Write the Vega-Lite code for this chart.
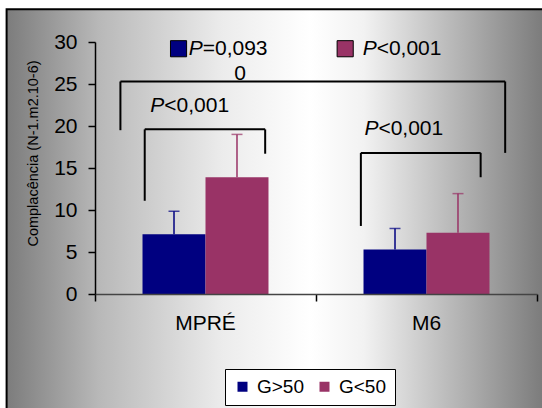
{
  "$schema": "https://vega.github.io/schema/vega-lite/v6.json",
  "width": 442,
  "height": 252,
  "autosize": "none",
  "padding": {"left": 95, "top": 42, "right": 5, "bottom": 114},
  "background": "#ffffff",
  "config": {
    "font": "Liberation Sans",
    "view": {"stroke": null},
    "axis": {"grid": false, "labelColor": "#000000", "titleColor": "#000000"},
    "legend": {
      "orient": "none", "legendX": 130, "legendY": 327, "direction": "horizontal",
      "fillColor": "#ffffff", "strokeColor": "#000000", "padding": 8,
      "labelFontSize": 19, "labelColor": "#000000", "symbolType": "square", "symbolSize": 100,
      "symbolStrokeWidth": 0, "columnPadding": 10, "labelOffset": 5, "title": null
    }
  },
  "datasets": {
    "bars": [
      {"cat": "MPRÉ", "grp": "G>50", "v": 7.1, "err": 9.85},
      {"cat": "MPRÉ", "grp": "G<50", "v": 13.9, "err": 19.0},
      {"cat": "M6", "grp": "G>50", "v": 5.3, "err": 7.8},
      {"cat": "M6", "grp": "G<50", "v": 7.3, "err": 11.95}
    ],
    "frame": [{"u": -0.4, "u2": 2.05, "v": 33.9, "v2": -14.1}],
    "brackets": [
      {"u": 0.115, "u2": 1.856, "v": 25.3, "v2": 25.3},
      {"u": 0.115, "u2": 0.115, "v": 25.3, "v2": 19.5},
      {"u": 1.856, "u2": 1.856, "v": 25.3, "v2": 16.8},
      {"u": 0.225, "u2": 0.770, "v": 19.6, "v2": 19.6},
      {"u": 0.225, "u2": 0.225, "v": 19.6, "v2": 11.1},
      {"u": 0.770, "u2": 0.770, "v": 19.6, "v2": 16.7},
      {"u": 1.203, "u2": 1.745, "v": 16.8, "v2": 16.8},
      {"u": 1.203, "u2": 1.203, "v": 16.8, "v2": 8.1},
      {"u": 1.745, "u2": 1.745, "v": 16.8, "v2": 13.9}
    ],
    "ptexts": [
      {"u": 0.25, "v": 22.4, "rest": "<0,001"},
      {"u": 1.219, "v": 19.6, "rest": "<0,001"},
      {"u": 0.424, "v": 29.2, "rest": "=0,093"},
      {"u": 1.211, "v": 29.2, "rest": "<0,001"}
    ],
    "wrap": [{"u": 0.656, "v": 26.2, "t": "0"}],
    "squares": [
      {"u": 0.378, "v": 29.2, "grp": "G>50"},
      {"u": 1.132, "v": 29.2, "grp": "G<50"}
    ]
  },
  "layer": [
    {
      "layer": [
        {
          "data": {"name": "frame"},
          "mark": {
            "type": "rect",
            "fill": {
              "gradient": "linear", "x1": 0, "x2": 1, "y1": 0, "y2": 0,
              "stops": [
                {"offset": 0, "color": "#7c7c7c"},
                {"offset": 0.17, "color": "#b8b8b8"},
                {"offset": 0.4, "color": "#ececec"},
                {"offset": 0.56, "color": "#ffffff"},
                {"offset": 0.66, "color": "#f2f2f2"},
                {"offset": 0.86, "color": "#ababab"},
                {"offset": 1, "color": "#787878"}
              ]
            },
            "stroke": "#000000",
            "strokeWidth": 2
          },
          "encoding": {
            "x": {"field": "u", "type": "quantitative", "scale": {"domain": [0, 2], "nice": false, "zero": false},
                  "axis": {"zindex": 2, "values": [0, 1, 2], "labels": false, "domain": false, "ticks": true, "tickSize": 7, "tickColor": "#000000", "tickWidth": 1.5, "orient": "bottom", "title": null, "grid": false}},
            "x2": {"field": "u2"},
            "y": {"field": "v", "type": "quantitative", "title": "Complacência (N-1.m2.10-6)", "scale": {"domain": [0, 30], "nice": false, "zero": true}},
            "y2": {"field": "v2"}
          }
        },
        {
          "data": {"name": "brackets"},
          "mark": {"type": "rule", "color": "#000000", "strokeWidth": 2},
          "encoding": {
            "x": {"field": "u", "type": "quantitative", "title": null},
            "x2": {"field": "u2"},
            "y": {"field": "v", "type": "quantitative", "title": "Complacência (N-1.m2.10-6)"},
            "y2": {"field": "v2"}
          }
        },
        {
          "data": {"name": "ptexts"},
          "mark": {"type": "text", "align": "left", "baseline": "middle", "fontSize": 21, "fontStyle": "italic", "color": "#000000"},
          "encoding": {
            "x": {"field": "u", "type": "quantitative", "title": null},
            "y": {"field": "v", "type": "quantitative", "title": "Complacência (N-1.m2.10-6)"},
            "text": {"value": "P"}
          }
        },
        {
          "data": {"name": "ptexts"},
          "mark": {"type": "text", "align": "left", "baseline": "middle", "fontSize": 21, "dx": 14, "color": "#000000"},
          "encoding": {
            "x": {"field": "u", "type": "quantitative", "title": null},
            "y": {"field": "v", "type": "quantitative", "title": "Complacência (N-1.m2.10-6)"},
            "text": {"field": "rest"}
          }
        },
        {
          "data": {"name": "wrap"},
          "mark": {"type": "text", "align": "center", "baseline": "middle", "fontSize": 21, "color": "#000000"},
          "encoding": {
            "x": {"field": "u", "type": "quantitative", "title": null},
            "y": {"field": "v", "type": "quantitative", "title": "Complacência (N-1.m2.10-6)"},
            "text": {"field": "t"}
          }
        },
        {
          "data": {"name": "squares"},
          "mark": {"type": "point", "shape": "square", "filled": true, "size": 260, "stroke": "#000000", "strokeWidth": 1, "opacity": 1},
          "encoding": {
            "x": {"field": "u", "type": "quantitative", "title": null},
            "y": {"field": "v", "type": "quantitative", "title": "Complacência (N-1.m2.10-6)"},
            "color": {"field": "grp", "type": "nominal"}
          }
        }
      ]
    },
    {
      "data": {"name": "bars"},
      "encoding": {
        "x": {"field": "cat", "type": "nominal", "sort": ["MPRÉ", "M6"],
              "scale": {"paddingInner": 0.43, "paddingOuter": 0.215},
              "axis": {"zindex": 2, "orient": "bottom", "labelAngle": 0, "labelFontSize": 21, "labelPadding": 18, "ticks": false, "domainColor": "#444444", "domainWidth": 1.5, "title": null}},
        "xOffset": {"field": "grp", "type": "nominal", "sort": ["G>50", "G<50"], "scale": {"paddingInner": 0, "paddingOuter": 0}}
      },
      "layer": [
        {
          "mark": {"type": "bar"},
          "encoding": {
            "y": {"field": "v", "type": "quantitative", "title": "Complacência (N-1.m2.10-6)",
                  "axis": {"zindex": 2, "values": [0, 5, 10, 15, 20, 25, 30], "tickSize": 7, "tickColor": "#000000", "tickWidth": 1.5, "domainColor": "#000000", "domainWidth": 1.5,
                           "labelFontSize": 21, "labelPadding": 11, "titleFontSize": 14.5, "titleFontWeight": "normal",
                           "titleX": -62, "titleY": 111, "titleAngle": 270, "titleAlign": "center", "titleBaseline": "middle"}},
            "color": {"field": "grp", "type": "nominal", "sort": ["G>50", "G<50"],
                      "scale": {"domain": ["G>50", "G<50"], "range": ["#000080", "#993366"]}}
          }
        },
        {
          "mark": {"type": "rule", "strokeWidth": 1.5},
          "encoding": {
            "y": {"field": "v", "type": "quantitative", "title": "Complacência (N-1.m2.10-6)"},
            "y2": {"field": "err"},
            "color": {"field": "grp", "type": "nominal"}
          }
        },
        {
          "mark": {"type": "tick", "size": 11, "thickness": 1.5},
          "encoding": {
            "y": {"field": "err", "type": "quantitative", "title": "Complacência (N-1.m2.10-6)"},
            "color": {"field": "grp", "type": "nominal"}
          }
        }
      ]
    }
  ],
  "resolve": {"scale": {"x": "independent"}, "axis": {"x": "independent"}}
}
